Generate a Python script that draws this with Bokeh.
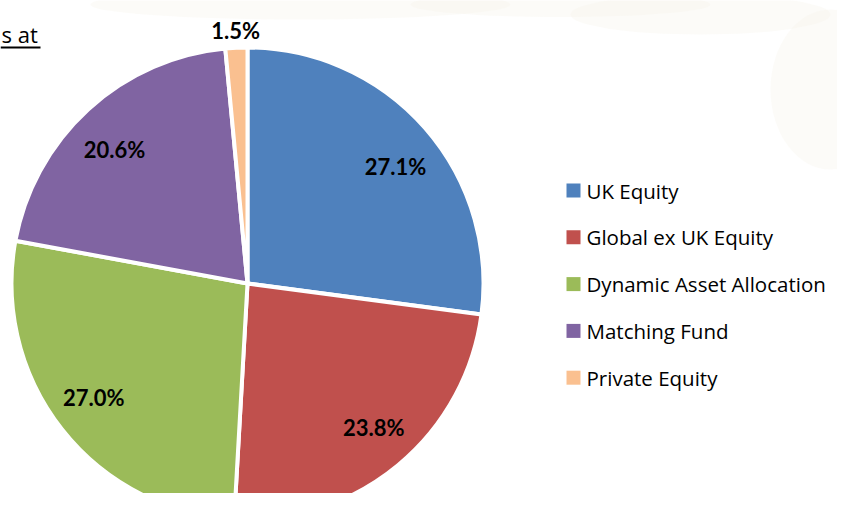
import math
from bokeh.plotting import figure
from bokeh.models import Range1d, ColumnDataSource
from bokeh.core.properties import value
from bokeh.embed import file_html
from bokeh.resources import INLINE

categories = ["UK Equity", "Global ex UK Equity", "Dynamic Asset Allocation", "Matching Fund", "Private Equity"]
shares = [27.1, 23.8, 27.0, 20.6, 1.5]
labels = ["27.1%", "23.8%", "27.0%", "20.6%", "1.5%"]
colors = ["#4F81BD", "#C0504D", "#9BBB59", "#8064A2", "#FAC090"]

W, H = 837, 493
# data coords: x = reference pixel x, y = 509 - reference pixel y
p = figure(width=W, height=H, output_backend="svg", toolbar_location=None,
           x_range=Range1d(0, 837), y_range=Range1d(16, 509),
           min_border=0, outline_line_color=None)
p.axis.visible = False
p.grid.visible = False
p.background_fill_color = "white"
p.border_fill_color = "white"

# faint background texture
p.ellipse(x=[300, 560, 700, 830], y=[505, 505, 495, 420], width=[420, 300, 260, 120],
          height=[30, 25, 40, 160], fill_color="#F7F3EC", fill_alpha=0.35, line_color=None)

cx, cy, r = 247, 509 - 283, 236
total = sum(shares)
starts, ends = [], []
a = math.pi / 2
for s in shares:
    da = 2 * math.pi * s / total
    starts.append(a - da)
    ends.append(a)
    a -= da

src = ColumnDataSource(dict(start=starts, end=ends, color=colors, cat=categories))
p.wedge(x=cx, y=cy, radius=r, start_angle="start", end_angle="end",
        fill_color="color", line_color="white", line_width=4, source=src)

# data labels
lab_r = [0.80, 0.81, 0.81, 0.80, 1.075]
lab_da = [-0.05, 0.03, -0.03, 0.04, 0.0]
lx, ly = [], []
for s0, e0, rr, d in zip(starts, ends, lab_r, lab_da):
    m = (s0 + e0) / 2 + d
    lx.append(cx + rr * r * math.cos(m))
    ly.append(cy + rr * r * math.sin(m))
p.text(x=lx, y=ly, text=labels, text_font=value("Lato"), text_font_style="bold",
       text_font_size="22px", text_align="center", text_baseline="middle", text_color="black")

# legend
ly0 = 509 - 190
step = 46.8
leg_y = [ly0 - i * step for i in range(len(categories))]
p.rect(x=[573] * len(categories), y=leg_y, width=14, height=14, fill_color=colors, line_color=None)
p.text(x=[586] * len(categories), y=leg_y, text=categories, text_font=value("Open Sans"),
       text_font_size="20.5px", text_align="left", text_baseline="middle", text_color="black")

# partial title at top-left
p.quad(left=0, right=70, top=509 - 5, bottom=509 - 97, fill_color="white", line_color=None)
p.text(x=[1], y=[509 - 33], text=["s at"], text_font=value("Open Sans"), text_font_size="22px",
       text_align="left", text_baseline="middle", text_color="black")
p.segment(x0=[0], y0=[509 - 47], x1=[40], y1=[509 - 47], line_color="black", line_width=2)

open("out.html", "w").write(file_html(p, INLINE))
